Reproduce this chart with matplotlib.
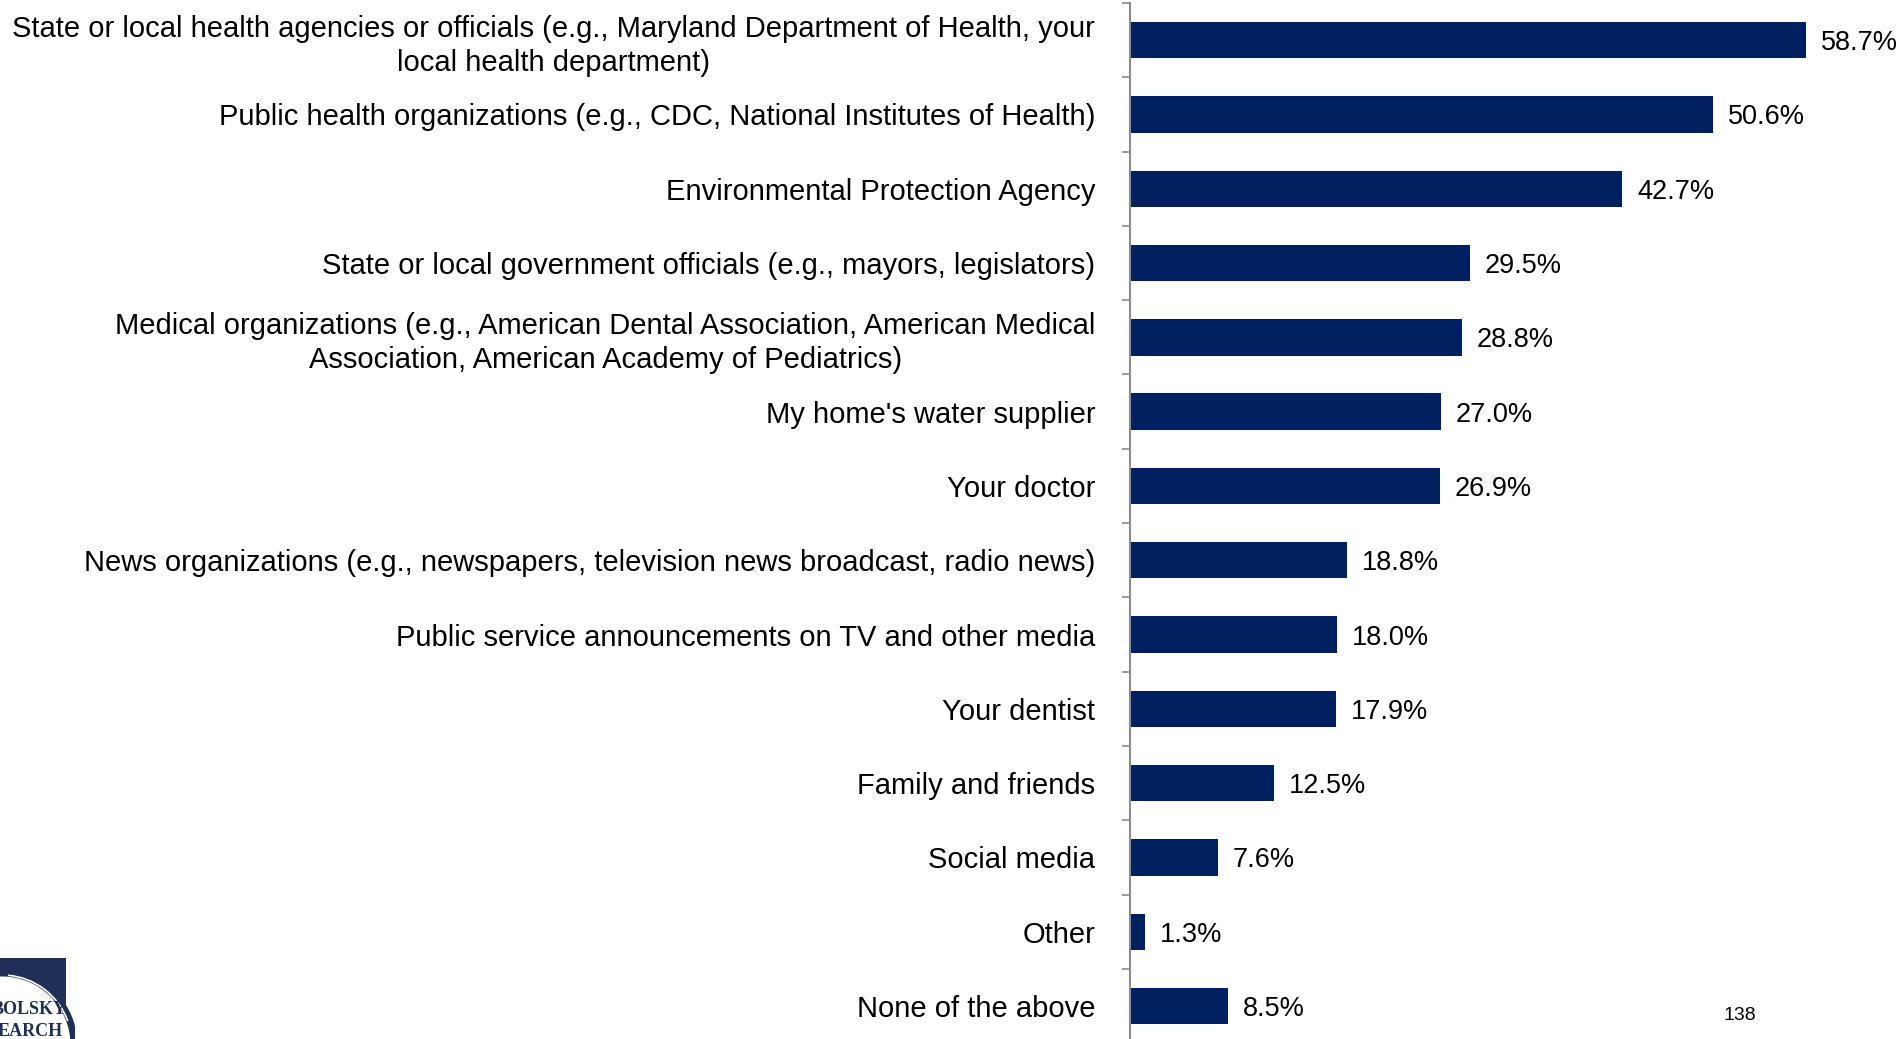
import matplotlib
matplotlib.use("Agg")
import matplotlib.pyplot as plt
from matplotlib.patches import Rectangle, Circle, Arc
import numpy as np

plt.rcParams["font.family"] = ["Liberation Sans", "DejaVu Sans"]

# data
categories = [
    "State or local health agencies or officials (e.g., Maryland Department of Health, your\nlocal health department)",
    "Public health organizations (e.g., CDC, National Institutes of Health)",
    "Environmental Protection Agency",
    "State or local government officials (e.g., mayors, legislators)",
    "Medical organizations (e.g., American Dental Association, American Medical\nAssociation, American Academy of Pediatrics)",
    "My home's water supplier",
    "Your doctor",
    "News organizations (e.g., newspapers, television news broadcast, radio news)",
    "Public service announcements on TV and other media",
    "Your dentist",
    "Family and friends",
    "Social media",
    "Other",
    "None of the above",
]
values = [58.7, 50.6, 42.7, 29.5, 28.8, 27.0, 26.9, 18.8, 18.0, 17.9, 12.5, 7.6, 1.3, 8.5]

W, H = 1898, 1039
fig = plt.figure(figsize=(W / 100, H / 100), dpi=100)

bar_color = "#002060"
axis_gray = "#8c8c8c"

# axes placed in pixel terms: left edge at x=1130, rows 74.3 px apart
x0 = 1130
y_top = 3
row = 74.3
n = len(values)
y_bot = y_top + row * n
ax = fig.add_axes([x0 / W, 1 - y_bot / H, (W - x0) / W, (y_bot - y_top) / H])

pos = np.arange(n)
ax.barh(pos, values, height=0.49, color=bar_color)
ax.set_ylim(n - 0.5, -0.5)
ax.set_xlim(0, (W - x0) / 11.52)

for p, v in zip(pos, values):
    ax.text(v + 15 / 11.52, p, f"{v:.1f}%", va="center_baseline", ha="left", fontsize=19.5, color="black")

ax.set_yticks(pos)
ax.set_yticklabels(categories, fontsize=21, ha="right", multialignment="center",
                   va="center_baseline", linespacing=1.25)
ax.tick_params(axis="y", which="major", length=0, pad=25)
ax.set_yticks(np.arange(n + 1) - 0.5, minor=True)
ax.tick_params(axis="y", which="minor", length=6, width=1.2, color=axis_gray)
ax.set_xticks([])
for s in ["top", "right", "bottom"]:
    ax.spines[s].set_visible(False)
ax.spines["left"].set_color(axis_gray)
ax.spines["left"].set_linewidth(1.5)

# page number
fig.text(1740 / W, 1 - 1016 / H, "138", fontsize=14, ha="center", va="center")

# cropped logo in the bottom-left corner
lg = fig.add_axes([0, 0, 75 / W, 85 / H])
lg.set_xlim(0, 75)
lg.set_ylim(0, 85)
lg.axis("off")
lg.add_patch(Rectangle((0, 0), 66, 81, color="#1f2f55", lw=0))
lg.add_patch(Circle((2, -6), 72, facecolor="white", edgecolor="#1f2f55", lw=5))
lg.add_patch(Arc((2, -6), 140, 140, theta1=20, theta2=85, color="white", lw=1.2))
lg.text(-8, 30, "BOLSKY", fontsize=13, family="Liberation Serif", weight="bold", color="#1f2f55", va="center")
lg.text(-2, 8, "EARCH", fontsize=13, family="Liberation Serif", weight="bold", color="#1f2f55", va="center")

fig.savefig("out.png", dpi=100)
